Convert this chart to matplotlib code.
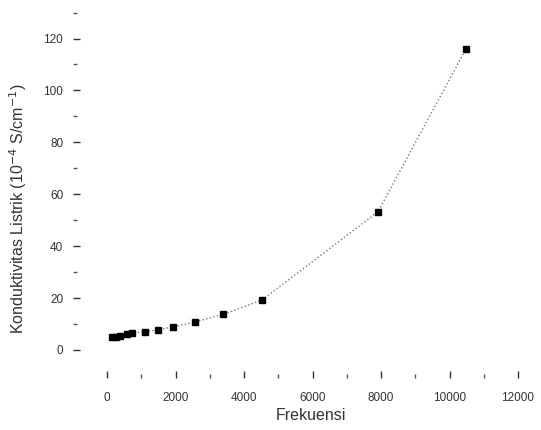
import numpy as np
import matplotlib.pyplot as plt

# Data
frekuensi = [150, 260, 380, 580, 730, 1110, 1490, 1930, 2570, 3390, 4530, 7910, 10480]
konduktivitas = [5.0, 5.1, 5.3, 6.1, 6.5, 7.0, 7.8, 8.9, 10.8, 13.7, 19.3, 53.3, 116.0]

x_ticks = [0, 2000, 4000, 6000, 8000, 10000, 12000]
y_ticks = [0, 20, 40, 60, 80, 100, 120]

plt.rcParams['font.family'] = ['Liberation Sans', 'DejaVu Sans']

fig = plt.figure(figsize=(5.41, 4.30), dpi=100)
ax = fig.add_axes([73 / 541, 52 / 430, (530 - 73) / 541, (420 - 52) / 430])

ax.plot(frekuensi, konduktivitas, linestyle=':', color='#777777', linewidth=1.0)
ax.plot(frekuensi, konduktivitas, linestyle='none', marker='s', color='black',
        markersize=5)

ax.set_xlim(-1000, 12350)
ax.set_ylim(-10.8, 131)

ax.set_xticks(x_ticks)
ax.set_xticks(np.arange(1000, 12000, 2000), minor=True)
ax.set_yticks(y_ticks)
ax.set_yticks(np.arange(10, 131, 20), minor=True)

for s in ax.spines.values():
    s.set_visible(False)

ax.tick_params(axis='both', which='major', length=5, width=1.0, color='#333333',
               labelsize=8.5, labelcolor='#333333', direction='in')
ax.tick_params(axis='both', which='minor', length=3, width=1.0, color='#555555',
               direction='in')
ax.tick_params(axis='y', pad=7)
ax.tick_params(axis='x', pad=10)

ax.set_xlabel('Frekuensi', fontsize=11.5, color='#333333')
ax.set_ylabel('Konduktivitas Listrik (10$^{-4}$ S/cm$^{-1}$)', fontsize=11.5,
              color='#333333')
ax.xaxis.set_label_coords(0.52, -0.082)
ax.yaxis.set_label_coords(-0.097, 0.46)

fig.savefig('out.png', dpi=100)
